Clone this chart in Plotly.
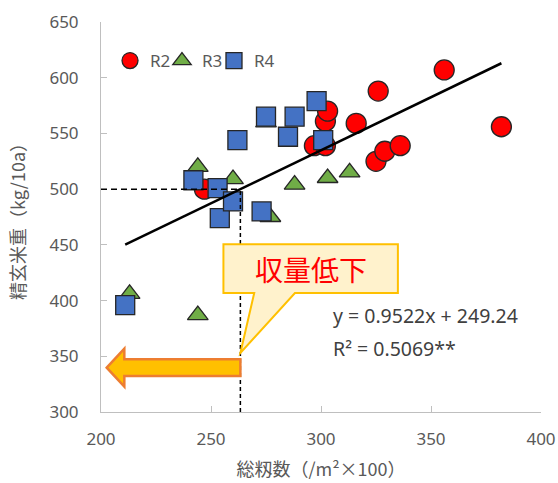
import plotly.graph_objects as go

# Total spikelets (/m2 x100) and brown rice yield (kg/10a) by year
r2_spikelets = [247, 297, 302, 302, 303, 316, 325, 329, 336, 326, 356, 382]
r2_yield = [500, 539, 539, 561, 570, 559, 525, 534, 539, 588, 607, 556]

r3_spikelets = [213, 244, 244, 260, 275, 277, 288, 303, 313]
r3_yield = [406, 387, 520, 509, 560, 475, 504, 510, 515]

r4_spikelets = [211, 242, 253, 254, 260, 262, 273, 275, 285, 288, 298, 301]
r4_yield = [396, 508, 501, 474, 489, 544, 480, 565, 547, 565, 579, 544]

# Linear fit over all years
SLOPE = 0.9522
INTERCEPT = 249.24
R_SQUARED = 0.5069
YIELD_THRESHOLD = 500

x_ticks = [200, 250, 300, 350, 400]
y_ticks = [300, 350, 400, 450, 500, 550, 600, 650]

GRAY_TEXT = "#595959"
AXIS_GRAY = "#BFBFBF"
EDGE = "#262626"
NUM_FONT = "Noto Sans, Noto Sans CJK JP, sans-serif"
JP_FONT = "Noto Sans CJK JP, Noto Sans, sans-serif"

fig = go.Figure()

# Each year gets its own legend box so the keys sit close together
fig.add_trace(go.Scatter(
    x=r2_spikelets, y=r2_yield, mode="markers", name="R2", legend="legend",
    marker=dict(symbol="circle", size=20, color="#FF0000",
                line=dict(color=EDGE, width=1.3)),
))
fig.add_trace(go.Scatter(
    x=r3_spikelets, y=r3_yield, mode="markers", name="R3", legend="legend2",
    marker=dict(symbol="triangle-up", size=18, color="#70AD47",
                line=dict(color=EDGE, width=1.3)),
))
fig.add_trace(go.Scatter(
    x=r4_spikelets, y=r4_yield, mode="markers", name="R4", legend="legend3",
    marker=dict(symbol="square", size=19, color="#4472C4",
                line=dict(color=EDGE, width=1.3)),
))

# Regression line across the observed range
all_x = r2_spikelets + r3_spikelets + r4_spikelets
fit_x = [min(all_x), max(all_x)]
fit_y = [SLOPE * v + INTERCEPT for v in fit_x]
fig.add_trace(go.Scatter(
    x=fit_x, y=fit_y, mode="lines", showlegend=False, hoverinfo="skip",
    line=dict(color="black", width=2.5),
))

# Spikelet number where the fitted yield reaches the threshold
x_thr = (YIELD_THRESHOLD - INTERCEPT) / SLOPE

shapes = [
    dict(type="line", xref="x", yref="y", x0=x_ticks[0], x1=x_thr,
         y0=YIELD_THRESHOLD, y1=YIELD_THRESHOLD, layer="above",
         line=dict(color="black", width=1.5, dash="6px,4px")),
    dict(type="line", xref="x", yref="y", x0=x_thr, x1=x_thr,
         y0=y_ticks[0], y1=YIELD_THRESHOLD, layer="above",
         line=dict(color="black", width=1.5, dash="4px,3px")),
]

# Speech-bubble callout pointing at the threshold line
bx0, bx1 = x_thr - 7.7, x_thr + 71.6
by0, by1 = 406.8, 450.5
tail_a, tail_b = x_thr + 6.3, x_thr + 24.8
tip_y = 353
callout_path = (
    f"M{bx0},{by1} L{bx1},{by1} L{bx1},{by0} L{tail_b},{by0} "
    f"L{x_thr},{tip_y} L{tail_a},{by0} L{bx0},{by0} Z"
)
shapes.append(dict(type="path", xref="x", yref="y", path=callout_path,
                   fillcolor="#FFF2CC", layer="above",
                   line=dict(color="#FFC000", width=2)))

# Left-pointing block arrow (lower yield side)
ax_tip, ax_neck = 202.6, 210.6
ay_mid = 339.8
shaft_h, head_h = 7.6, 17.0
arrow_path = (
    f"M{ax_tip},{ay_mid} L{ax_neck},{ay_mid + head_h} L{ax_neck},{ay_mid + shaft_h} "
    f"L{x_thr},{ay_mid + shaft_h} L{x_thr},{ay_mid - shaft_h} "
    f"L{ax_neck},{ay_mid - shaft_h} L{ax_neck},{ay_mid - head_h} Z"
)
shapes.append(dict(type="path", xref="x", yref="y", path=arrow_path,
                   fillcolor="#FFC000", layer="above",
                   line=dict(color="#ED7D31", width=2.5)))

annotations = [
    dict(x=(bx0 + bx1) / 2, y=(by0 + by1) / 2, xref="x", yref="y",
         text="収量低下", showarrow=False,
         font=dict(family=JP_FONT, size=28, color="#FF0000")),
    dict(x=304.5, y=386.8, xref="x", yref="y", xanchor="left",
         text=f"y = {SLOPE}x + {INTERCEPT}", showarrow=False,
         font=dict(family=NUM_FONT, size=19.5, color="#404040")),
    dict(x=304.5, y=356.9, xref="x", yref="y", xanchor="left",
         text=f"R² = {R_SQUARED}**", showarrow=False,
         font=dict(family=NUM_FONT, size=19.5, color="#404040")),
]

axis_common = dict(
    showline=True, linecolor=AXIS_GRAY, linewidth=1,
    ticks="inside", ticklen=6, tickcolor=AXIS_GRAY,
    showgrid=False, zeroline=False, automargin=False,
    tickfont=dict(family=NUM_FONT, size=17, color=GRAY_TEXT),
)


def legend_box(x_pos):
    return dict(orientation="h", x=x_pos, y=0.9, xanchor="left", yanchor="middle",
                bgcolor="rgba(0,0,0,0)", itemwidth=30,
                font=dict(family=NUM_FONT, size=17, color=GRAY_TEXT))


fig.update_layout(
    width=558, height=483,
    margin=dict(l=101, r=17, t=22, b=71),
    paper_bgcolor="white", plot_bgcolor="white",
    showlegend=True,
    legend=legend_box(0.0205),
    legend2=legend_box(0.1386),
    legend3=legend_box(0.2568),
    xaxis=dict(range=[x_ticks[0], x_ticks[-1]], tickvals=x_ticks,
               ticklabelstandoff=12,
               title=dict(text="総籾数（/m²×100）", standoff=13,
                          font=dict(family=JP_FONT, size=18, color=GRAY_TEXT)),
               **axis_common),
    yaxis=dict(range=[y_ticks[0], y_ticks[-1]], tickvals=y_ticks,
               ticklabelstandoff=18,
               title=dict(text="精玄米重（kg/10a）", standoff=19,
                          font=dict(family=JP_FONT, size=18, color=GRAY_TEXT)),
               **axis_common),
    shapes=shapes,
    annotations=annotations,
)

fig.write_html("out.html")
